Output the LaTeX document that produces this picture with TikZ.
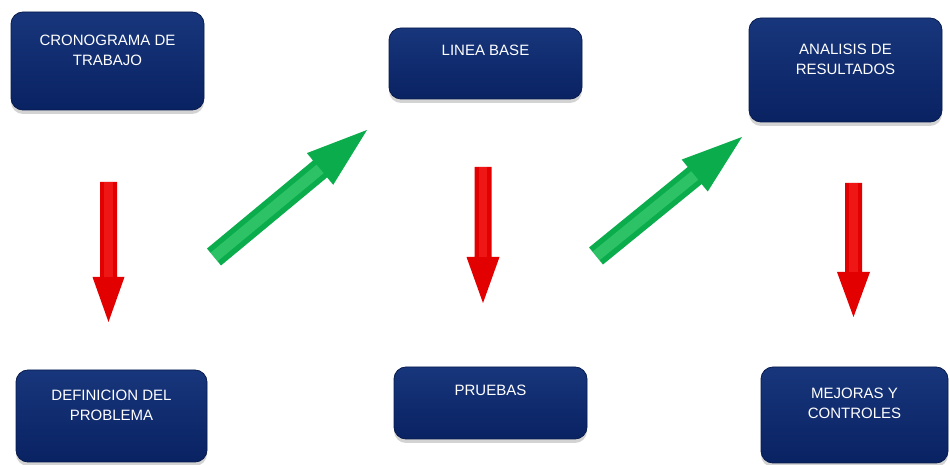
\documentclass[tikz,border=0pt]{standalone}
\usepackage{fontspec}
\setmainfont{Liberation Sans}
\usetikzlibrary{calc,shadows}
\definecolor{Marino}{RGB}{9,34,98}
\definecolor{MarinoClaro}{RGB}{24,54,124}
\definecolor{Rojo}{RGB}{226,0,0}
\definecolor{RojoClaro}{RGB}{255,50,50}
\definecolor{Verde}{RGB}{10,172,76}
\definecolor{VerdeClaro}{RGB}{90,222,138}
% from, to, half shaft, half head, head length, fill, light
\newcommand{\flecha}[7]{%
	\fill[#6] ($(#1)!#3!-90:(#2)$) -- ($(#2)!#5!(#1)!#3!-90:(#2)$) -- ($(#2)!#5!(#1)!#4!-90:(#2)$) -- (#2)
		-- ($(#2)!#5!(#1)!#4!90:(#2)$) -- ($(#2)!#5!(#1)!#3!90:(#2)$) -- ($(#1)!#3!90:(#2)$) -- cycle;
	\draw[#7, opacity=.45, line width=#3] (#1) -- ($(#2)!#5!(#1)$);
}

\begin{document}
\begin{tikzpicture}[x=0.5pt,y=0.5pt]
				\tikzstyle{caja}=[draw=Marino!80!black, rounded corners=6pt, top color=MarinoClaro, bottom color=Marino, drop shadow={shadow xshift=0pt, shadow yshift=-2pt, opacity=.35}];
				\tikzstyle{texto}=[text=white, font=\fontsize{7.5}{10}\selectfont, align=center, inner sep=0pt, anchor=north];
				\useasboundingbox (0,0) rectangle (950,-465);
				\node [caja, minimum width=96.5pt, minimum height=49pt, label={[texto, yshift=-11.5pt]north:CRONOGRAMA DE\\TRABAJO}] (crono) at (107.5,-61) {};
				\node [caja, minimum width=96.5pt, minimum height=35.5pt, label={[texto, yshift=-8.5pt]north:LINEA BASE}] (linea) at (485.5,-63.5) {};
				\node [caja, minimum width=96.5pt, minimum height=52pt, label={[texto, yshift=-13pt]north:ANALISIS DE\\RESULTADOS}] (analisis) at (845.5,-70) {};
				\node [caja, minimum width=95.5pt, minimum height=46pt, label={[texto, yshift=-10pt]north:DEFINICION DEL\\PROBLEMA}] (definicion) at (111.5,-416) {};
				\node [caja, minimum width=96.5pt, minimum height=36pt, label={[texto, yshift=-9pt]north:PRUEBAS}] (pruebas) at (490.5,-403) {};
				\node [caja, minimum width=93.5pt, minimum height=48pt, label={[texto, yshift=-10.5pt]north:MEJORAS Y\\CONTROLES}] (mejoras) at (854.5,-415) {};
				\coordinate (f1a) at (108.5,-182);
				\coordinate (f1b) at (108.5,-322);
				\coordinate (f2a) at (214,-257);
				\coordinate (f2b) at (367,-130);
				\coordinate (f3a) at (483,-167);
				\coordinate (f3b) at (483,-303);
				\coordinate (f4a) at (596,-256);
				\coordinate (f4b) at (742,-137);
				\coordinate (f5a) at (853.5,-183);
				\coordinate (f5b) at (853.5,-317);
				\flecha{f1a}{f1b}{4.25pt}{8pt}{22.5pt}{Rojo}{RojoClaro}
				\flecha{f2a}{f2b}{5.5pt}{10.3pt}{30.5pt}{Verde}{VerdeClaro}
				\flecha{f3a}{f3b}{4.25pt}{8.25pt}{23pt}{Rojo}{RojoClaro}
				\flecha{f4a}{f4b}{5.5pt}{10.3pt}{30.5pt}{Verde}{VerdeClaro}
				\flecha{f5a}{f5b}{4.25pt}{8.25pt}{22.5pt}{Rojo}{RojoClaro}
\end{tikzpicture}
\end{document}
